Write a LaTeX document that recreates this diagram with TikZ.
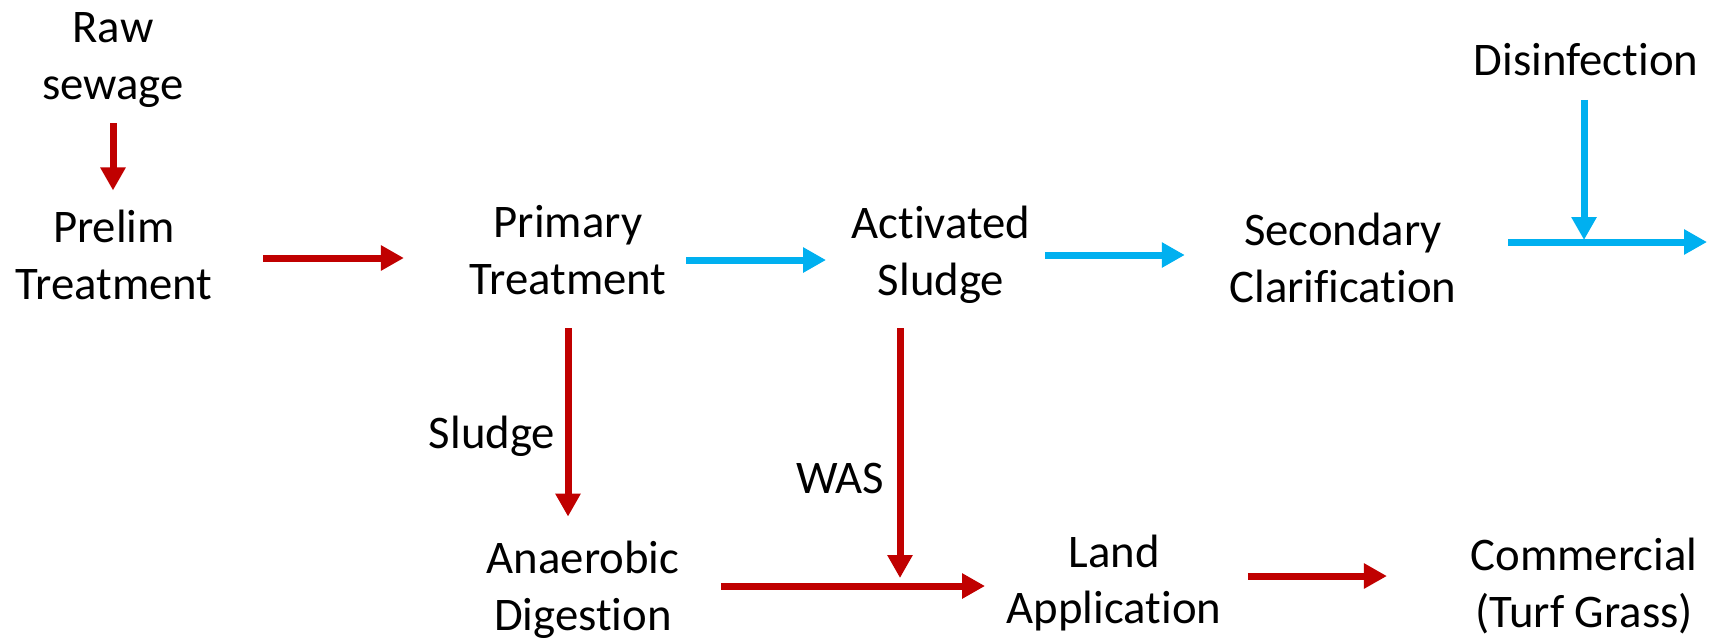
\documentclass[tikz,border=0pt]{standalone}
\usepackage{fontspec}
\setmainfont{Carlito}[Ligatures=NoCommon]
\usetikzlibrary{arrows.meta}

\definecolor{SludgeRed}{HTML}{C00000}
\definecolor{WaterBlue}{HTML}{00B0F0}

\begin{document}
\begin{tikzpicture}[
  stage/.style={align=center, inner sep=0pt, font=\fontsize{13.3}{16.2}\selectfont},
  flow/.style={line width=0.7mm, -{Triangle[length=2.3mm,width=2.4mm]}},
  redflow/.style={flow, draw=SludgeRed},
  blueflow/.style={flow, draw=WaterBlue}]

\useasboundingbox (0,0) rectangle (17.15,-6.40);

%% treatment stages
\node[stage] (raw)          at (1.13,-0.60)  {Raw\\sewage};
\node[stage] (prelim)       at (1.14,-2.55)  {Prelim\\Treatment};
\node[stage] (primary)      at (5.68,-2.50)  {Primary\\Treatment};
\node[stage] (activated)    at (9.41,-2.55)  {Activated\\Sludge};
\node[stage] (secondary)    at (13.43,-2.58) {Secondary\\Clarification};
\node[stage] (disinfection) at (15.86,-0.60) {Disinfection};
\node[stage] (anaerobic)    at (5.83,-5.90)  {Anaerobic\\Digestion};
\node[stage] (land)         at (11.14,-5.83) {Land\\Application};
\node[stage] (commercial)   at (15.84,-5.86) {Commercial\\(Turf Grass)};

%% stream labels
\node[stage] (sludgelbl) at (4.92,-4.36) {Sludge};
\node[stage] (waslbl)    at (8.40,-4.78) {WAS};

%% junctions
\coordinate (chlorine) at (15.84,-2.42);
\coordinate (effluent) at (17.07,-2.42);
\coordinate (wasin)    at (9.00,-5.86);

%% liquid train
\draw[redflow, shorten <=1.5mm, shorten >=1.9mm] (raw.south) -- (raw.south |- prelim.north);
\draw[redflow, shorten <=5.0mm, shorten >=6.5mm] ([yshift=-0.3mm]prelim.east) -- ([yshift=-0.3mm]prelim.east -| primary.west);
\draw[blueflow, shorten <=1.9mm, shorten >=2.5mm] ([yshift=-1mm]primary.east) -- ([yshift=-1mm]primary.east -| activated.west);
\draw[blueflow, shorten <=1.4mm, shorten >=4.4mm] (activated.east) -- (activated.east -| secondary.west);
\draw[blueflow, shorten <=5.1mm] (secondary.east |- effluent) -- (effluent);
\draw[blueflow, shorten <=2.3mm, shorten >=0.2mm] (disinfection.south -| chlorine) -- (chlorine);

%% solids train
\draw[redflow, shorten <=3.3mm, shorten >=2.4mm] (primary.south) -- (primary.south |- anaerobic.north);
\draw[redflow, shorten <=2.4mm, shorten >=0.8mm] (activated.south -| wasin) -- (wasin);
\draw[redflow, shorten <=4.1mm, shorten >=2.1mm] ([yshift=0.4mm]anaerobic.east) -- ([yshift=0.4mm]anaerobic.east -| land.west);
\draw[redflow, shorten <=2.6mm, shorten >=8.3mm] ([yshift=0.7mm]land.east) -- ([yshift=0.7mm]land.east -| commercial.west);

\end{tikzpicture}
\end{document}
